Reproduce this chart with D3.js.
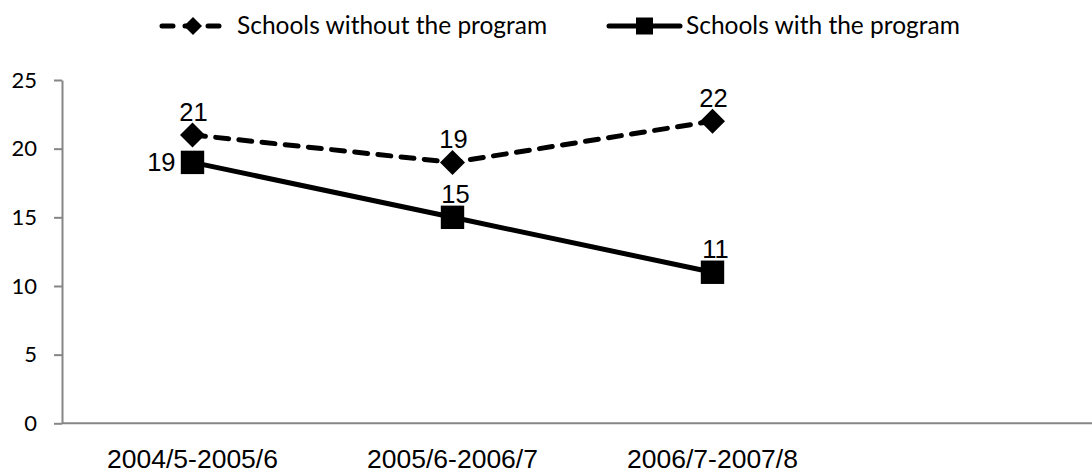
<!DOCTYPE html>
<html>
<head>
<meta charset="utf-8">
<script src="https://cdn.jsdelivr.net/npm/d3@7"></script>
<style>
  html, body { margin: 0; padding: 0; background: #fff; }
  svg { display: block; }
</style>
</head>
<body>
<svg id="chart" width="1092" height="475"></svg>
<script>
const categories = ["2004/5-2005/6", "2005/6-2006/7", "2006/7-2007/8"];
const withoutProgram = [21, 19, 22];
const withProgram = [19, 15, 11];
const yTicks = [0, 5, 10, 15, 20, 25];
const seriesNames = ["Schools without the program", "Schools with the program"];

const W = 1092, H = 475;
const svg = d3.select("#chart");

const y = d3.scaleLinear().domain([0, 25]).range([423.3, 80]);
const x = d3.scaleBand().domain(categories).range([62.5, 842.5]);
const cx = c => x(c) + x.bandwidth() / 2;

const axisColor = "#868686";

// Y axis
const yAxis = svg.append("g")
  .attr("transform", "translate(62,0)")
  .call(d3.axisLeft(y).tickValues(yTicks).tickSize(8).tickSizeOuter(0).tickPadding(17));
yAxis.select(".domain").attr("stroke", axisColor).attr("stroke-width", 2);
yAxis.selectAll(".tick line").attr("stroke", axisColor).attr("stroke-width", 2);
yAxis.selectAll(".tick text")
  .attr("font-family", "Lato, 'Open Sans', sans-serif")
  .attr("font-size", 22).attr("fill", "#000");

// X axis
const xAxis = svg.append("g")
  .attr("transform", `translate(0,${y(0)})`)
  .call(d3.axisBottom(x).tickSize(0).tickSizeOuter(0));
xAxis.select(".domain").remove();
xAxis.append("line")
  .attr("x1", 62).attr("x2", W)
  .attr("y1", 0).attr("y2", 0)
  .attr("stroke", axisColor).attr("stroke-width", 2);
xAxis.selectAll(".tick text")
  .attr("font-family", "'Liberation Sans', Arial, sans-serif")
  .attr("font-size", 26.5).attr("fill", "#000")
  .attr("dy", null).attr("y", 45);

const line = d3.line().x(d => cx(d.c)).y(d => y(d.v));
const dataWithout = categories.map((c, i) => ({ c, v: withoutProgram[i] }));
const dataWith = categories.map((c, i) => ({ c, v: withProgram[i] }));

// Series: without (dashed, diamonds)
svg.append("path").datum(dataWithout)
  .attr("d", line).attr("fill", "none").attr("stroke", "#000")
  .attr("stroke-width", 5).attr("stroke-dasharray", "13 10.3")
  .attr("stroke-linecap", "round");
const diamond = (s) => `M0,${-s}L${s},0L0,${s}L${-s},0Z`;
svg.selectAll(".dia").data(dataWithout).enter().append("path")
  .attr("transform", d => `translate(${cx(d.c)},${y(d.v)})`)
  .attr("d", diamond(12.5)).attr("fill", "#000");

// Series: with (solid, squares)
svg.append("path").datum(dataWith)
  .attr("d", line).attr("fill", "none").attr("stroke", "#000")
  .attr("stroke-width", 5);
svg.selectAll(".sq").data(dataWith).enter().append("rect")
  .attr("x", d => cx(d.c) - 11.7).attr("y", d => y(d.v) - 11.7)
  .attr("width", 23.4).attr("height", 23.4).attr("fill", "#000");

// Data labels
const lblFont = "'Liberation Sans', Arial, sans-serif";
svg.selectAll(".lblA").data(dataWithout).enter().append("text")
  .attr("x", d => cx(d.c) + 1).attr("y", d => y(d.v) - 14)
  .attr("text-anchor", "middle").attr("font-family", lblFont)
  .attr("font-size", 25.5).attr("fill", "#000").text(d => d.v);
svg.selectAll(".lblB").data(dataWith).enter().append("text")
  .attr("x", (d, i) => i === 0 ? cx(d.c) - 17 : cx(d.c) + 3)
  .attr("y", (d, i) => i === 0 ? y(d.v) + 9 : y(d.v) - 14)
  .attr("text-anchor", (d, i) => i === 0 ? "end" : "middle")
  .attr("font-family", lblFont)
  .attr("font-size", 25.5).attr("fill", "#000").text(d => d.v);

// Legend
const legFont = "Lato, 'Open Sans', sans-serif";
const leg1 = svg.append("g").attr("transform", "translate(160,26)");
leg1.append("line").attr("x1", 2).attr("x2", 63).attr("y1", 0).attr("y2", 0)
  .attr("stroke", "#000").attr("stroke-width", 5)
  .attr("stroke-dasharray", "11 12").attr("stroke-linecap", "round");
leg1.append("path").attr("transform", "translate(33,0)").attr("d", diamond(9)).attr("fill", "#000");
leg1.append("text").attr("x", 77).attr("y", 7.5)
  .attr("font-family", legFont).attr("font-size", 24.5).attr("fill", "#000")
  .text(seriesNames[0]);

const leg2 = svg.append("g").attr("transform", "translate(609,26)");
leg2.append("line").attr("x1", 0).attr("x2", 71).attr("y1", 0).attr("y2", 0)
  .attr("stroke", "#000").attr("stroke-width", 5).attr("stroke-linecap", "round");
leg2.append("rect").attr("x", 27).attr("y", -8.5).attr("width", 17).attr("height", 17).attr("fill", "#000");
leg2.append("text").attr("x", 77).attr("y", 7.5)
  .attr("font-family", legFont).attr("font-size", 24.5).attr("fill", "#000")
  .text(seriesNames[1]);
</script>
</body>
</html>
